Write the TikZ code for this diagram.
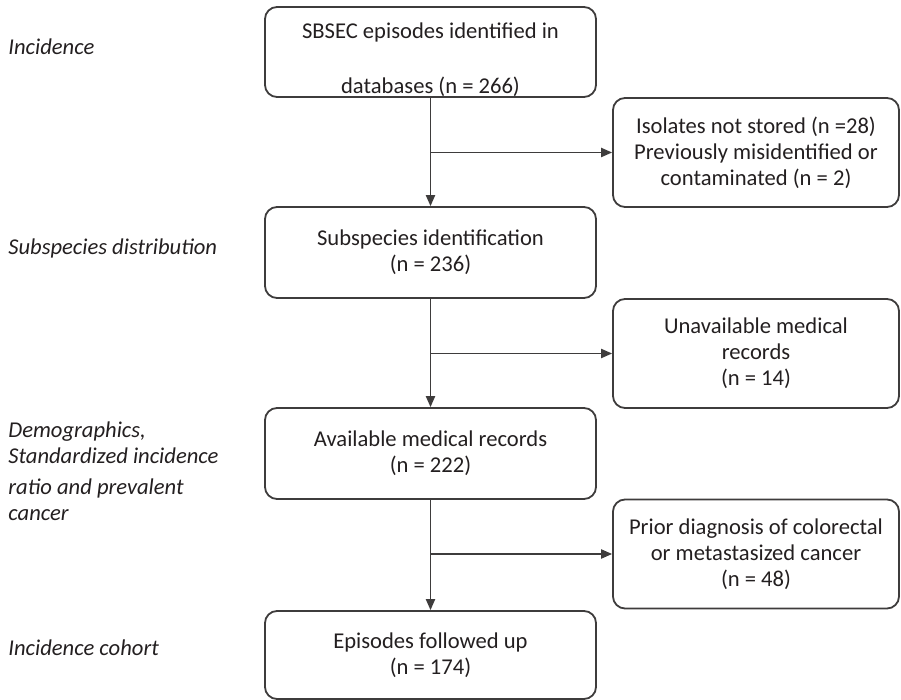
\documentclass[tikz,border=0pt]{standalone}
\usepackage{fontspec}
\setmainfont{Carlito}
\usetikzlibrary{arrows.meta}
\definecolor{ink}{RGB}{35,31,32}
\definecolor{edgec}{RGB}{62,60,60}
\begin{document}
\begin{tikzpicture}[x=0.5pt,y=-0.5pt,
  every node/.style={font=\fontsize{11.3}{13}\selectfont, text=ink},
  mainbox/.style={draw=edgec, line width=0.9pt, rounded corners=6pt, minimum width=165.5pt, align=center, inner sep=0pt},
  sidebox/.style={draw=edgec, line width=0.9pt, rounded corners=6pt, minimum width=143pt, minimum height=54.5pt, align=center, inner sep=0pt},
  plaintext/.style={align=center, inner sep=0pt},
  flow/.style={draw=edgec, line width=0.75pt, -{Triangle[length=5.5pt,width=4.6pt]}},
  sidelabel/.style={anchor=west, align=left, inner sep=0pt, font=\fontsize{11.3}{13}\selectfont\itshape}]
\useasboundingbox (0,0) rectangle (901,700);

% left-hand labels
\node[sidelabel] (l1) at (8,47) {Incidence};
\node[sidelabel] (l2) at (8,248) {Subspecies distribution};
\node[sidelabel] (l3) at (8,471) {Demographics,\\Standardized incidence\\[2.5pt]ratio and prevalent\\cancer};
\node[sidelabel] (l4) at (8,648) {Incidence cohort};

% main column
\node[mainbox, minimum height=45pt] (b1) at (430.5,52) {};
\node[plaintext] (b1t) at (430.5,60) {SBSEC episodes identified in\\[14.5pt]databases (n = 266)};
\node[mainbox, minimum height=45.5pt] (b2) at (430.5,252.5) {Subspecies identification\\(n = 236)};
\node[mainbox, minimum height=45.5pt] (b3) at (430.5,453.5) {Available medical records\\(n = 222)};
\node[mainbox, minimum height=44pt] (b4) at (430.5,655) {Episodes followed up\\(n = 174)};

% exclusion boxes
\node[sidebox] (r1) at (756,152.5) {Isolates not stored (n =28)\\Previously misidentified or\\contaminated (n = 2)};
\node[sidebox] (r2) at (756,353.5) {Unavailable medical\\records\\(n = 14)};
\node[sidebox] (r3) at (756,554) {Prior diagnosis of colorectal\\or metastasized cancer\\(n = 48)};

% connectors
\draw[flow] (b1.south) -- (b2.north);
\draw[flow] (b1.south |- r1.west) -- (r1.west);
\draw[flow] (b2.south) -- (b3.north);
\draw[flow] (b2.south |- r2.west) -- (r2.west);
\draw[flow] (b3.south) -- (b4.north);
\draw[flow] (b3.south |- r3.west) -- (r3.west);
\end{tikzpicture}
\end{document}
